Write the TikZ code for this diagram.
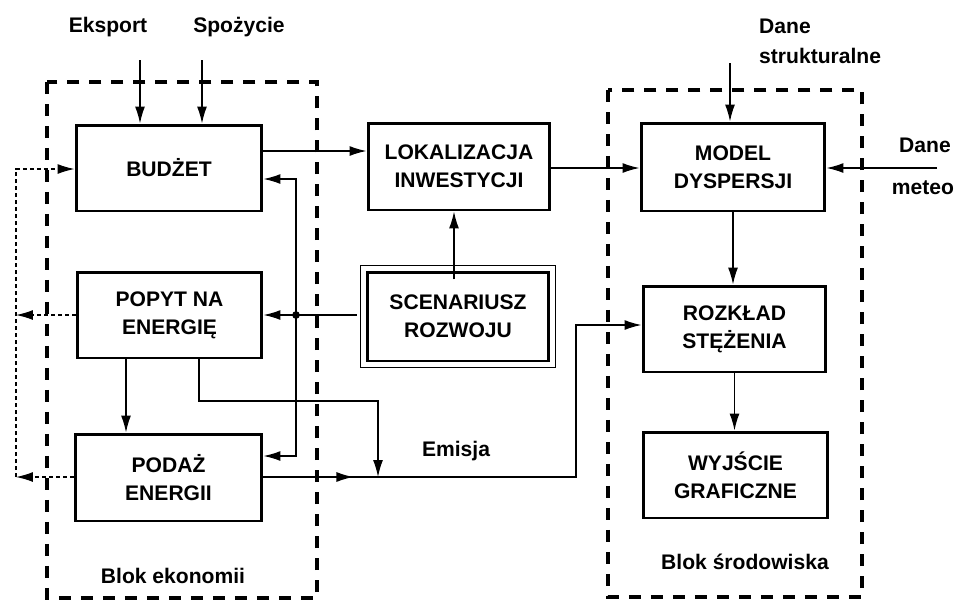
\documentclass[tikz,border=0pt]{standalone}
\usepackage{fontspec}
\setmainfont{Liberation Sans}
\usetikzlibrary{arrows.meta,decorations.markings}

\begin{document}
\begin{tikzpicture}[x=0.02cm, y=-0.02cm,
    every node/.style = {font=\fontsize{12}{16}\selectfont\bfseries},
    blok/.style    = {draw, line width=1.7pt, align=center, inner sep=0pt},
    granica/.style = {line width=1.8pt, dash pattern=on 0.24cm off 0.2cm},
    polacz/.style  = {line width=0.8pt, -{Latex[length=3.4mm,width=2mm]}},
    zwrot/.style   = {polacz, line width=0.7pt, dash pattern=on 0.08cm off 0.06cm},
    srodek/.style  = {postaction={decorate}, decoration={markings,
      mark=at position 1.8cm with {\arrow{Latex[length=3.4mm,width=2mm]}}}},
  ]
  \useasboundingbox (0,0) rectangle (957,600);

  \draw[granica] (47,82) rectangle (317,598);
  \draw[granica] (608,90) rectangle (862,597);

  \node[blok, minimum width=3.72cm, minimum height=1.72cm] (budzet) at (169,168) {BUDŻET};
  \node[blok, minimum width=3.7cm, minimum height=1.72cm] (popyt) at (169.5,315) {POPYT NA\\ENERGIĘ};
  \node[blok, minimum width=3.74cm, minimum height=1.74cm] (podaz) at (168.5,477.5) {PODAŻ\\ENERGII};
  \node[blok, minimum width=3.64cm, minimum height=1.74cm] (lokal) at (459,166.5) {LOKALIZACJA\\INWESTYCJI};
  \node[blok, minimum width=3.64cm, minimum height=1.78cm] (scen) at (458,316.5) {SCENARIUSZ\\ROZWOJU};
  \draw[line width=0.9pt] ([shift={(-5,5)}]scen.south west) rectangle ([shift={(5,-5)}]scen.north east);
  \node[blok, minimum width=3.68cm, minimum height=1.76cm] (model) at (733,167) {MODEL\\DYSPERSJI};
  \node[blok, minimum width=3.66cm, minimum height=1.72cm] (rozklad) at (734.5,329) {ROZKŁAD\\STĘŻENIA};
  \node[blok, minimum width=3.7cm, minimum height=1.72cm] (wyjscie) at (735.5,475) {WYJŚCIE\\GRAFICZNE};

  \node (eksport) at (108,27) {Eksport};
  \node (spozycie) at (239,27) {Spożycie};
  \node[anchor=north west, align=left, font=\fontsize{12}{17}\selectfont\bfseries] (dstrukt) at (753,13) {Dane\\strukturalne};
  \node[anchor=west] (dmeteo1) at (893,145) {Dane};
  \node[anchor=east, inner sep=1pt] (dmeteo2) at (956,188) {meteo};
  \node (emisja) at (456,451) {Emisja};
  \node (blokek) at (173,576) {Blok ekonomii};
  \node (bloksr) at (745,562) {Blok środowiska};

  \coordinate (eks) at (140,60);
  \coordinate (spo) at (202,60);
  \coordinate (dstr) at (730,63);
  \coordinate (dmet) at (937,168);
  \coordinate (wezel) at (296,315);
  \coordinate (emis) at (378,477);
  \coordinate (zwrotA) at (16,315);
  \coordinate (zwrotB) at (16,477);

  \draw[polacz] (eks) -- (eks |- budzet.north);
  \draw[polacz] (spo) -- (spo |- budzet.north);
  \draw[polacz] (budzet.east |- 0,151) -- (lokal.west |- 0,151);
  \draw[polacz] (lokal.east |- 0,168) -- (model.west |- 0,168);
  \draw[polacz] (dstr) -- (dstr |- model.north);
  \draw[polacz] (dmet) -- (dmet -| model.east);
  \draw[polacz] ([yshift=-5]scen.north -| 454,0) -- (lokal.south -| 454,0);

  \draw[line width=0.8pt] ([xshift=-5]scen.west |- wezel) -- (wezel);
  \fill (wezel) circle[radius=2.2pt];
  \draw[polacz] (wezel) -- (wezel -| popyt.east);
  \draw[polacz] (wezel) |- (budzet.east |- 0,179);
  \draw[polacz] (wezel) |- (podaz.east |- 0,456);

  \draw[polacz] (popyt.south -| 126,0) -- (podaz.north -| 126,0);
  \draw[polacz] (popyt.south -| 199,0) -- (199,401) -- (378,401) -- (emis);
  \draw[polacz, srodek] (podaz.east |- emis) -- (576,477) |- (rozklad.west |- 0,325);

  \draw[polacz] (model.south) -- (model.south |- rozklad.north);
  \draw[polacz] (rozklad.south) -- (rozklad.south |- wyjscie.north);

  \draw[zwrot] (popyt.west) -- (zwrotA);
  \draw[zwrot] (podaz.west |- zwrotB) -- (zwrotB);
  \draw[zwrot] (zwrotB) -- (16,169) -- (budzet.west |- 0,169);
\end{tikzpicture}
\end{document}
